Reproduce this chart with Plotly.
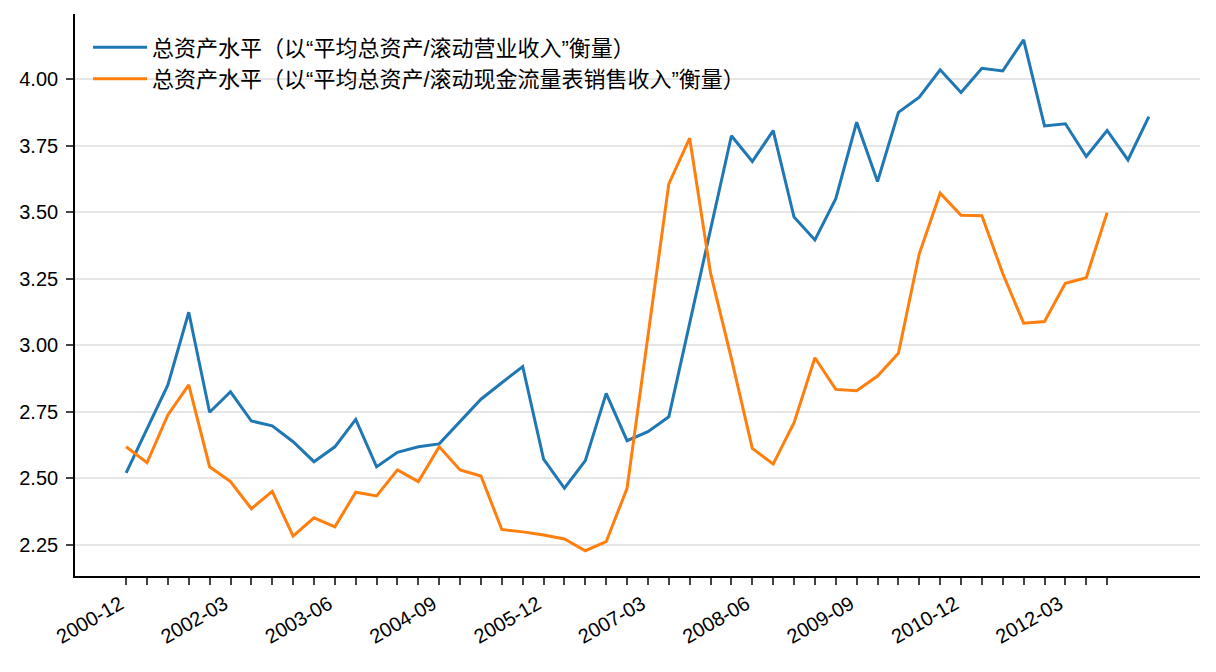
import pandas as pd
import plotly.graph_objects as go

# quarterly dates, starting 2000-12
quarters = list(pd.date_range("2000-12-31", periods=50, freq="QE").strftime("%Y-%m"))

# 总资产水平（平均总资产/滚动营业收入）
asset_rev = [2.520, 2.686, 2.851, 3.124, 2.748, 2.825, 2.715, 2.697, 2.637, 2.562,
             2.618, 2.721, 2.543, 2.597, 2.618, 2.629, 2.712, 2.797, 2.859, 2.920,
             2.572, 2.462, 2.566, 2.819, 2.641, 2.675, 2.731, 3.084, 3.437, 3.788,
             3.691, 3.807, 3.482, 3.396, 3.551, 3.839, 3.616, 3.876, 3.933, 4.036,
             3.951, 4.042, 4.032, 4.149, 3.825, 3.833, 3.710, 3.808, 3.697, 3.860]

# 总资产水平（平均总资产/滚动现金流量表销售收入）
asset_cash = [2.618, 2.558, 2.738, 2.851, 2.543, 2.487, 2.385, 2.450, 2.282, 2.351,
              2.317, 2.447, 2.433, 2.531, 2.487, 2.618, 2.531, 2.508, 2.307, 2.298,
              2.286, 2.271, 2.227, 2.261, 2.462, 3.030, 3.607, 3.779, 3.271, 2.950,
              2.612, 2.553, 2.709, 2.953, 2.834, 2.829, 2.884, 2.970, 3.344, 3.572,
              3.489, 3.487, 3.270, 3.083, 3.089, 3.233, 3.254, 3.499]

names = ["总资产水平（以“平均总资产/滚动营业收入”衡量）",
         "总资产水平（以“平均总资产/滚动现金流量表销售收入”衡量）"]
colors = ["#1f77b4", "#ff7f0e"]

ytick_vals = [2.25, 2.50, 2.75, 3.00, 3.25, 3.50, 3.75, 4.00]

tick_pos = quarters[:len(asset_cash)]
tick_txt = [q if i % 5 == 0 else "" for i, q in enumerate(tick_pos)]

fig = go.Figure()
for k, ys in enumerate([asset_rev, asset_cash]):
    fig.add_trace(go.Scatter(x=quarters[:len(ys)], y=ys, mode="lines", name=names[k],
                             legendgroup="g%d" % k,
                             line=dict(color=colors[k], width=3)))

# page body has an 8px margin, margins below compensate for it
fig.update_layout(
    width=1216, height=672,
    margin=dict(l=67, r=24, t=6, b=104, autoexpand=False),
    plot_bgcolor="white", paper_bgcolor="white",
    font=dict(family="Liberation Sans, Noto Sans CJK SC", size=20, color="black"),
    showlegend=True,
    legend=dict(x=0.0116, y=0.978, xanchor="left", yanchor="top",
                bgcolor="rgba(255,255,255,0)", font=dict(size=22),
                itemwidth=54, tracegroupgap=0),
)
fig.update_xaxes(type="category", range=[-2.45, 51.45], automargin=False,
                 tickmode="array", tickvals=tick_pos, ticktext=tick_txt,
                 tickangle=-30, ticklabelshift=-6,
                 ticks="outside", ticklen=7, tickwidth=1.6,
                 showline=True, linecolor="black", linewidth=1.6,
                 showgrid=False, zeroline=False)
fig.update_yaxes(range=[2.132, 4.246], tickvals=ytick_vals, tickformat=".2f",
                 automargin=False, ticklabelstandoff=4,
                 ticks="outside", ticklen=7, tickwidth=1.6,
                 showline=True, linecolor="black", linewidth=1.6,
                 showgrid=True, gridcolor="#e6e6e6", gridwidth=1.5, zeroline=False)

fig.write_html("out.html")
